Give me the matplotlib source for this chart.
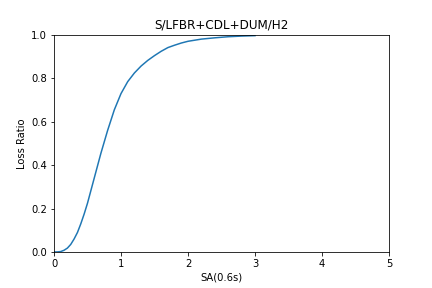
import matplotlib
matplotlib.use('Agg')
import matplotlib.pyplot as plt

# Loss curve
sa = [0.0, 0.05, 0.1, 0.15, 0.2, 0.25, 0.3, 0.35, 0.4, 0.45, 0.5, 0.6, 0.7,
      0.8, 0.9, 1.0, 1.1, 1.2, 1.3, 1.4, 1.5, 1.6, 1.7, 1.8, 1.9, 2.0, 2.2,
      2.4, 2.6, 2.8, 3.0]
loss_ratio = [0.0, 0.0005, 0.002, 0.008, 0.018, 0.035, 0.06, 0.09, 0.13,
              0.175, 0.225, 0.34, 0.455, 0.56, 0.655, 0.73, 0.785, 0.825,
              0.857, 0.883, 0.905, 0.925, 0.942, 0.953, 0.963, 0.971, 0.981,
              0.987, 0.992, 0.995, 0.997]

fig = plt.figure(figsize=(6, 4), dpi=72)
ax = fig.add_axes([0.125, 0.125, 0.7755, 0.7535])
ax.plot(sa, loss_ratio, color='#1f77b4')
ax.set_xlim(0, 5)
ax.set_ylim(0, 1)
ax.set_title("S/LFBR+CDL+DUM/H2")
ax.set_xlabel("SA(0.6s)")
ax.set_ylabel("Loss Ratio")
fig.savefig('out.png', dpi=72)
